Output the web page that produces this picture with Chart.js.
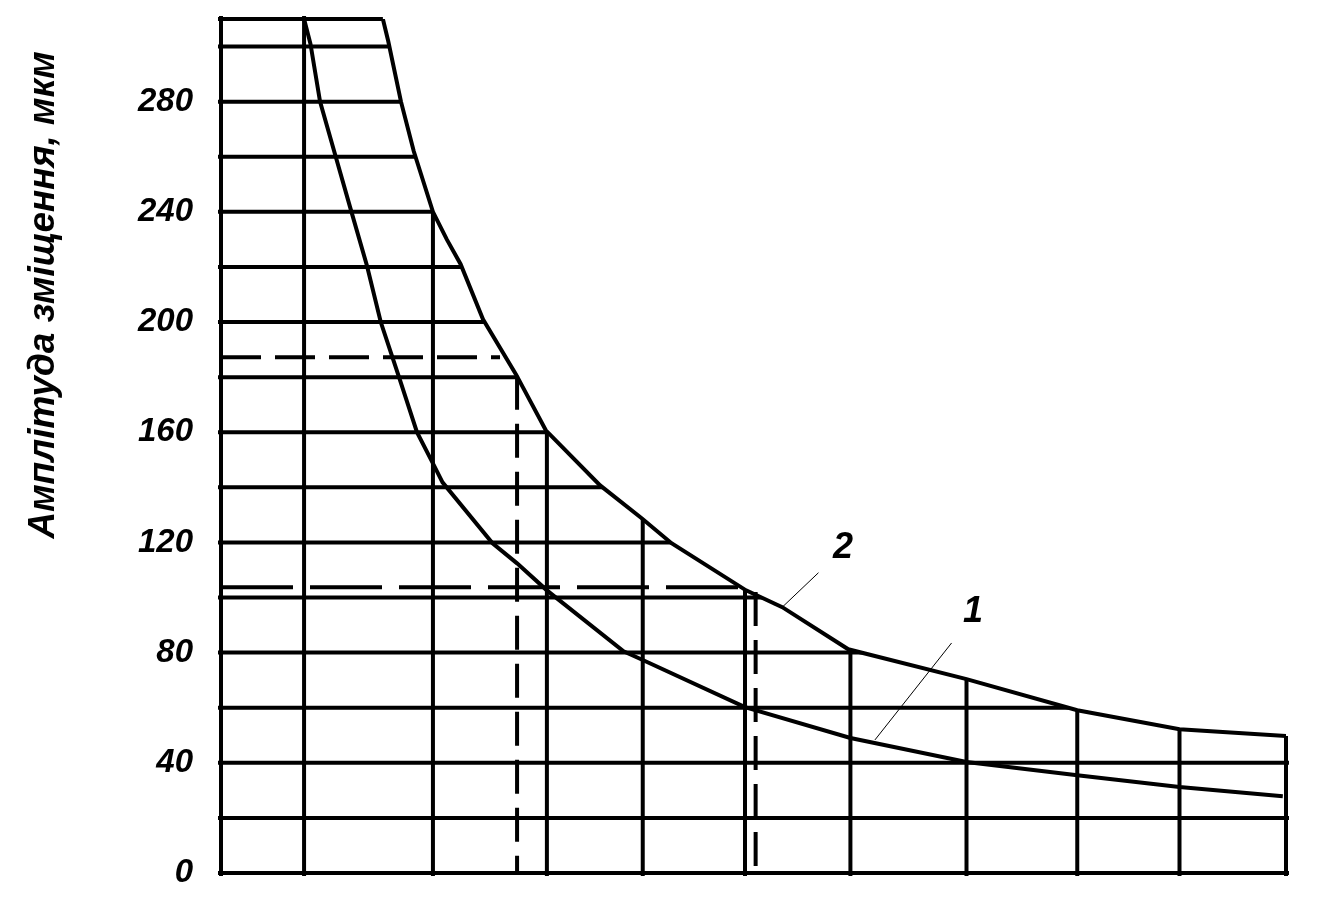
<!DOCTYPE html>
<html>
<head>
<meta charset="utf-8">
<script src="https://cdn.jsdelivr.net/npm/chart.js@4/dist/chart.umd.min.js"></script>
<style>
  html, body { margin: 0; padding: 0; background: #fff; }
  #wrap { width: 1318px; height: 909px; }
</style>
</head>
<body>
<div id="wrap"><canvas id="chart" width="1318" height="909"></canvas></div>
<script>
// Axis / grid values
const yMin = 0;
const yMax = 310;
const yTickStep = 40;
const yGridStep = 20;
const gridX = [0, 0.78, 1.99, 3.06, 3.96, 4.92, 5.91, 7.0, 8.04, 9.0, 10];

// Curve 1 (lower)
const curve1X = [0.78, 0.84, 0.93, 1.07, 1.21, 1.37, 1.50, 1.68, 1.84, 1.99, 2.08, 2.55, 2.78, 3.06, 3.78, 3.96, 4.92, 5.91, 7.0, 8.04, 9.0, 9.97];
const curve1Y = [310, 301, 280, 261, 242, 220.5, 200, 179, 160, 148.7, 141.8, 119.7, 112.4, 102.6, 80.5, 77.3, 60.2, 49, 40.3, 35.5, 31.2, 27.9];

// Curve 2 (upper)
const curve2X = [1.52, 1.57, 1.69, 1.81, 1.99, 2.12, 2.25, 2.46, 2.77, 3.05, 3.56, 3.95, 4.23, 4.93, 5.27, 5.89, 7.0, 8.04, 9.0, 10];
const curve2Y = [310, 302, 280, 262, 240, 230, 221, 201, 181, 160.7, 140.7, 128.8, 119.7, 102.6, 96.5, 81.2, 70.4, 59.1, 52.2, 49.7];

// Dashed construction lines
const dashH1X = [0, 2.62];
const dashH1Y = [187.2, 187.2];
const dashV1X = [2.78, 2.78];
const dashV1Y = [180.5, 0];
const dashH2X = [0, 4.94];
const dashH2Y = [103.7, 103.7];
const dashV2X = [5.02, 5.02];
const dashV2Y = [102, 0];

// Curve labels and leader lines
const labelText = ['1', '2'];
const labelX = [7.06, 5.84];
const labelY = [94.7, 118];
const leader1X = [6.86, 6.14];
const leader1Y = [83.5, 48.3];
const leader2X = [5.61, 5.27];
const leader2Y = [109, 96.5];

const yTitle = 'Амплітуда зміщення, мкм';
const FONT = "'Liberation Sans', Arial, sans-serif";
const LW = 4;

function pts(xs, ys) {
    return xs.map((x, i) => ({ x: x, y: ys[i] }));
}

function lineSet(xs, ys, width, dash) {
    return {
        data: pts(xs, ys),
        borderColor: '#000',
        borderWidth: width,
        borderDash: dash || [],
        pointRadius: 0,
        tension: 0,
        fill: false,
        borderCapStyle: 'butt'
    };
}

// Grid drawn only under curve 2
const clippedGrid = {
    id: 'clippedGrid',
    beforeDatasetsDraw(chart) {
        const ctx = chart.ctx;
        const xs = chart.scales.x;
        const ys = chart.scales.y;
        const area = chart.chartArea;
        const c2 = chart.getDatasetMeta(1).data;
        ctx.save();
        ctx.beginPath();
        ctx.moveTo(area.left - 3, area.top - 3);
        ctx.lineTo(c2[0].x, area.top - 3);
        c2.forEach(p => ctx.lineTo(p.x, p.y));
        ctx.lineTo(area.right + 3, c2[c2.length - 1].y);
        ctx.lineTo(area.right + 3, area.bottom + 3);
        ctx.lineTo(area.left - 3, area.bottom + 3);
        ctx.closePath();
        ctx.clip();
        ctx.strokeStyle = '#000';
        ctx.lineWidth = LW;
        ctx.beginPath();
        const yVals = [];
        for (let v = yMin; v <= yMax; v += yGridStep) yVals.push(v);
        yVals.push(yMax);
        yVals.forEach(v => {
            const py = ys.getPixelForValue(v);
            ctx.moveTo(area.left - 3, py);
            ctx.lineTo(area.right + 3, py);
        });
        gridX.forEach(v => {
            const px = xs.getPixelForValue(v);
            ctx.moveTo(px, area.top - 3);
            ctx.lineTo(px, area.bottom + 3);
        });
        ctx.stroke();
        ctx.restore();
    },
    afterDraw(chart) {
        const ctx = chart.ctx;
        const xs = chart.scales.x;
        const ys = chart.scales.y;
        ctx.save();
        ctx.fillStyle = '#000';
        ctx.font = 'italic bold 36px ' + FONT;
        ctx.textAlign = 'center';
        ctx.textBaseline = 'middle';
        labelText.forEach((t, i) => {
            ctx.fillText(t, xs.getPixelForValue(labelX[i]), ys.getPixelForValue(labelY[i]));
        });
        // rotated y title
        ctx.translate(44, 295);
        ctx.rotate(-Math.PI / 2);
        ctx.font = 'italic bold 37px ' + FONT;
        ctx.fillText(yTitle, 0, 0);
        ctx.restore();
    }
};

const whiteBg = {
    id: 'whiteBg',
    beforeDraw(chart) {
        const ctx = chart.ctx;
        ctx.save();
        ctx.fillStyle = '#fff';
        ctx.fillRect(0, 0, chart.width, chart.height);
        ctx.restore();
    }
};

new Chart(document.getElementById('chart'), {
    type: 'line',
    data: {
        datasets: [
            lineSet(curve1X, curve1Y, LW),
            lineSet(curve2X, curve2Y, LW),
            lineSet(dashH1X, dashH1Y, LW, [40, 14]),
            lineSet(dashV1X, dashV1Y, LW, [34, 14]),
            lineSet(dashH2X, dashH2Y, LW, [72, 17]),
            lineSet(dashV2X, dashV2Y, LW, [34, 14]),
            lineSet(leader1X, leader1Y, 1),
            lineSet(leader2X, leader2Y, 1)
        ]
    },
    options: {
        responsive: false,
        animation: false,
        layout: { padding: { top: 19, right: 32, bottom: 36, left: 0 } },
        plugins: {
            legend: { display: false },
            tooltip: { enabled: false }
        },
        scales: {
            x: {
                type: 'linear',
                min: 0,
                max: 10,
                display: false
            },
            y: {
                type: 'linear',
                min: yMin,
                max: yMax,
                grid: { display: false },
                border: { display: false },
                afterFit(scale) {
                    scale.width = 221;
                    scale.paddingTop = 0;
                    scale.paddingBottom = 0;
                },
                ticks: {
                    stepSize: yTickStep,
                    includeBounds: false,
                    padding: 20,
                    color: '#000',
                    font: { family: FONT, size: 33, style: 'italic', weight: 'bold' }
                }
            }
        }
    },
    plugins: [whiteBg, clippedGrid]
});
</script>
</body>
</html>
